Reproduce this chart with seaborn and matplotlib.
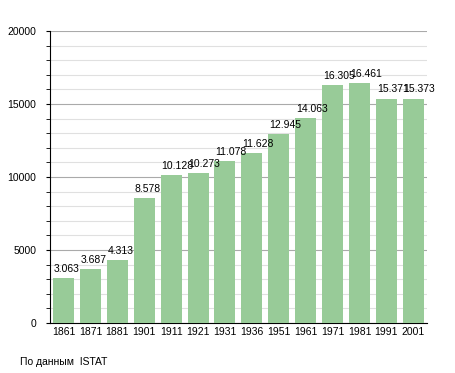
import matplotlib
matplotlib.use("Agg")
import matplotlib.pyplot as plt
import seaborn as sns
import pandas as pd
from matplotlib.ticker import MultipleLocator

# population data (ISTAT)
years = ["1861", "1871", "1881", "1901", "1911", "1921", "1931",
         "1936", "1951", "1961", "1971", "1981", "1991", "2001"]
population = [3063, 3687, 4313, 8578, 10128, 10273, 11078,
              11628, 12945, 14063, 16305, 16461, 15371, 15373]
bar_labels = ["3.063", "3.687", "4.313", "8.578", "10.128", "10.273", "11.078",
              "11.628", "12.945", "14.063", "16.305", "16.461", "15.371", "15.373"]

df = pd.DataFrame({"year": years, "pop": population})

sns.set_style("white")
plt.rcParams['font.family'] = ['Liberation Sans', 'DejaVu Sans']
plt.rcParams['text.color'] = 'black'
plt.rcParams['xtick.color'] = 'black'
plt.rcParams['ytick.color'] = 'black'

fig = plt.figure(figsize=(4.55, 3.73), dpi=100)
ax = fig.add_axes([0.110, 0.134, 0.828, 0.783])

bw = 0.78
sns.barplot(data=df, x="year", y="pop", color="#98cb98", saturation=1,
            width=bw, linewidth=0, ax=ax, zorder=3)

ax.set_ylim(0, 20000)
ax.set_xlim(-0.5, len(years) - 0.5)
ax.yaxis.set_major_locator(MultipleLocator(5000))
ax.yaxis.set_minor_locator(MultipleLocator(1000))
ax.grid(which="major", axis="y", color="#aaaaaa", linewidth=0.8, zorder=0)
ax.grid(which="minor", axis="y", color="#e0e0e0", linewidth=0.8, zorder=0)
ax.set_axisbelow(True)

for s in ["top", "right"]:
    ax.spines[s].set_visible(False)
ax.spines["left"].set_color("black")
ax.spines["bottom"].set_color("black")

ax.tick_params(axis="y", which="major", length=3, color="black", labelsize=7.5, pad=7, left=True)
ax.tick_params(axis="y", which="minor", length=3, color="black", left=True)
ax.tick_params(axis="x", length=0, labelsize=7.5, pad=3)
ax.set_xlabel("")
ax.set_ylabel("")

# value labels above bars, left aligned on bar edge
for i, (v, lab) in enumerate(zip(population, bar_labels)):
    ax.text(i - bw / 2 + 0.03, v + 280, lab, ha="left", va="bottom",
            fontsize=7.5, color="black", zorder=4)

fig.text(0.044, 0.03, "По данным  ISTAT", fontsize=7.5, ha="left", va="center", color="black")

fig.savefig("out.png", dpi=100)
